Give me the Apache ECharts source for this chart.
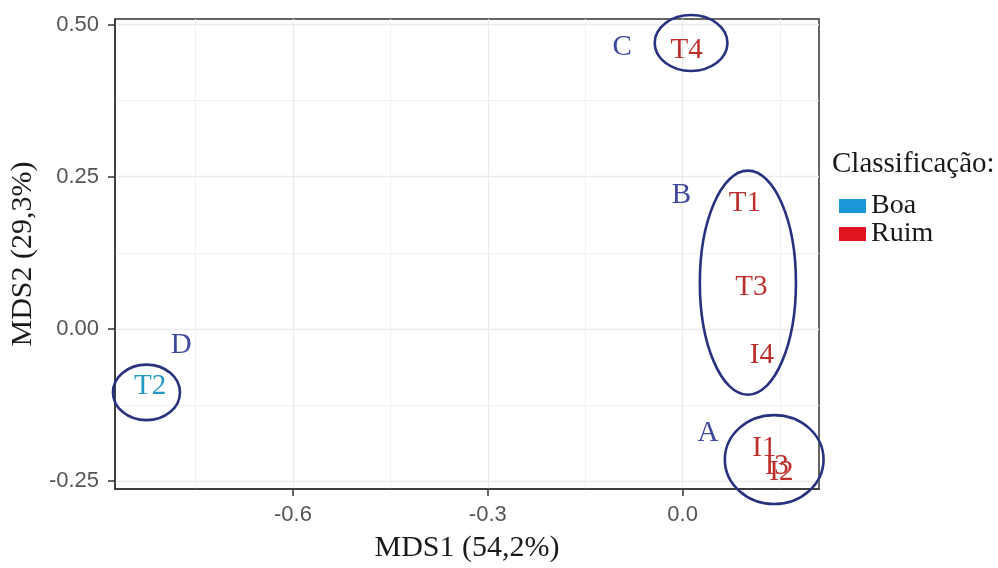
<!DOCTYPE html>
<html>
<head>
<meta charset="utf-8">
<script src="https://cdn.jsdelivr.net/npm/echarts@6/dist/echarts.min.js"></script>
<style>
  html, body { margin: 0; padding: 0; background: #fff; }
  #nmds { width: 998px; height: 568px; }
</style>
</head>
<body>
<div id="nmds"></div>
<script>
// pontos (amostras)
const pointNames = ['T4', 'T1', 'T3', 'I4', 'I1', 'I3', 'I2', 'T2'];
const mds1 = [0.006, 0.096, 0.106, 0.122, 0.126, 0.145, 0.152, -0.820];
const mds2 = [0.458, 0.206, 0.068, -0.043, -0.196, -0.226, -0.236, -0.095];
const pointClass = ['Ruim', 'Ruim', 'Ruim', 'Ruim', 'Ruim', 'Ruim', 'Ruim', 'Boa'];

// grupos (elipses)
const groupNames = ['A', 'B', 'C', 'D'];
const groupLabelX = [0.039, -0.002, -0.093, -0.772];
const groupLabelY = [-0.171, 0.219, 0.463, -0.027];
const ellipseX = [0.141, 0.1005, 0.013, -0.8256];
const ellipseY = [-0.2146, 0.0759, 0.4696, -0.1043];
const ellipseRx = [0.076, 0.074, 0.056, 0.0516];
const ellipseRy = [0.073, 0.184, 0.046, 0.0456];

// eixos
const xTicks = [-0.6, -0.3, 0.0];
const xMinor = [-0.75, -0.45, -0.15, 0.15];
const yTicks = [-0.25, 0.00, 0.25, 0.50];
const yMinor = [-0.125, 0.125, 0.375];
const classes = ['Boa', 'Ruim'];

const X_MIN = -0.874, X_MAX = 0.21;
const Y_MIN = -0.263, Y_MAX = 0.509;

const serif = 'Liberation Serif';
const classColor = { Boa: '#1b97d8', Ruim: '#e2141f' };
const labelColor = { Boa: '#2299c4', Ruim: '#bd2f2c' };

let myChart = echarts.init(document.getElementById('nmds'));

function pointsOf(cls) {
  let out = [];
  pointNames.forEach((n, i) => {
    if (pointClass[i] === cls) out.push({ name: n, value: [mds1[i], mds2[i]] });
  });
  return out;
}

const baseAxis = (min, max) => ({
  type: 'value',
  min: min,
  max: max,
  scale: true
});

let option = {
  animation: false,
  backgroundColor: '#fff',
  grid: {
    left: 115, right: 179, top: 19, bottom: 75,
    show: true,
    borderColor: '#333',
    borderWidth: 1.5,
    backgroundColor: '#fff'
  },
  legend: {
    data: classes.map(c => ({ name: c, itemStyle: { color: classColor[c], opacity: 1 } })),
    orient: 'vertical',
    left: 839,
    top: 192,
    padding: 0,
    itemGap: 0,
    itemWidth: 27,
    itemHeight: 14,
    icon: 'rect',
    selectedMode: false,
    textStyle: { fontFamily: serif, fontSize: 28, color: '#1a1a1a', lineHeight: 28 }
  },
  graphic: [{
    type: 'text',
    left: 832,
    top: 150,
    style: { text: 'Classificação:', font: '29px "Liberation Serif"', fill: '#1a1a1a' }
  }],
  xAxis: [
    Object.assign(baseAxis(X_MIN, X_MAX), {   // eixo principal
      name: 'MDS1 (54,2%)',
      nameLocation: 'middle',
      nameGap: 59,
      nameTextStyle: { fontFamily: serif, fontSize: 30, color: '#1a1a1a', verticalAlign: 'middle' },
      axisLine: { show: true, onZero: false, lineStyle: { color: '#333', width: 1.5 } },
      axisTick: { show: true, customValues: xTicks, length: 7, lineStyle: { color: '#333', width: 1.5 } },
      axisLabel: { customValues: xTicks, margin: 15, fontFamily: 'Liberation Sans', fontSize: 22, color: '#555',
        formatter: v => v.toFixed(1) },
      splitLine: { show: true, lineStyle: { color: '#ebebeb', width: 1.3 } }
    }),
    Object.assign(baseAxis(X_MIN, X_MAX), {   // grade menor
      position: 'bottom',
      axisLine: { show: false },
      axisTick: { show: false, customValues: xMinor },
      axisLabel: { show: false, customValues: xMinor },
      splitLine: { show: true, lineStyle: { color: '#f1f1f1', width: 1 } }
    })
  ],
  yAxis: [
    Object.assign(baseAxis(Y_MIN, Y_MAX), {
      name: 'MDS2 (29,3%)',
      nameLocation: 'middle',
      nameGap: 88,
      nameRotate: 90,
      nameTextStyle: { fontFamily: serif, fontSize: 30, color: '#1a1a1a', verticalAlign: 'middle' },
      axisLine: { show: true, onZero: false, lineStyle: { color: '#333', width: 1.5 } },
      axisTick: { show: true, customValues: yTicks, length: 7, lineStyle: { color: '#333', width: 1.5 } },
      axisLabel: { customValues: yTicks, margin: 16, fontFamily: 'Liberation Sans', fontSize: 22, color: '#555',
        formatter: v => v.toFixed(2) },
      splitLine: { show: true, lineStyle: { color: '#ebebeb', width: 1.3 } }
    }),
    Object.assign(baseAxis(Y_MIN, Y_MAX), {
      position: 'left',
      axisLine: { show: false },
      axisTick: { show: false, customValues: yMinor },
      axisLabel: { show: false, customValues: yMinor },
      splitLine: { show: true, lineStyle: { color: '#f1f1f1', width: 1 } }
    })
  ],
  series: [
    {
      name: 'elipses',
      type: 'custom',
      xAxisIndex: 0,
      yAxisIndex: 0,
      clip: false,
      silent: true,
      data: groupNames.map((g, i) => [ellipseX[i], ellipseY[i], ellipseRx[i], ellipseRy[i]]),
      renderItem: function (params, api) {
        let c = api.coord([api.value(0), api.value(1)]);
        let s = api.size([api.value(2), api.value(3)], [api.value(0), api.value(1)]);
        return {
          type: 'ellipse',
          shape: { cx: c[0], cy: c[1], rx: s[0], ry: s[1] },
          style: { fill: 'none', stroke: '#28327f', lineWidth: 2.6 }
        };
      }
    },
    {
      name: 'grupos',
      type: 'scatter',
      xAxisIndex: 0,
      yAxisIndex: 0,
      symbolSize: 0,
      silent: true,
      itemStyle: { opacity: 1 },
      data: groupNames.map((g, i) => ({ name: g, value: [groupLabelX[i], groupLabelY[i]] })),
      label: {
        show: true, position: 'inside', formatter: '{b}',
        fontFamily: serif, fontSize: 29, color: '#3e489c'
      }
    }
  ].concat(classes.map(cls => ({
    name: cls,
    type: 'scatter',
    xAxisIndex: 0,
    yAxisIndex: 0,
    symbolSize: 0,
    silent: true,
    itemStyle: { color: classColor[cls], opacity: 1 },
    data: pointsOf(cls),
    label: {
      show: true, position: 'inside', formatter: '{b}',
      fontFamily: serif, fontSize: 29, color: labelColor[cls]
    }
  })))
};

myChart.setOption(option);
</script>
</body>
</html>
